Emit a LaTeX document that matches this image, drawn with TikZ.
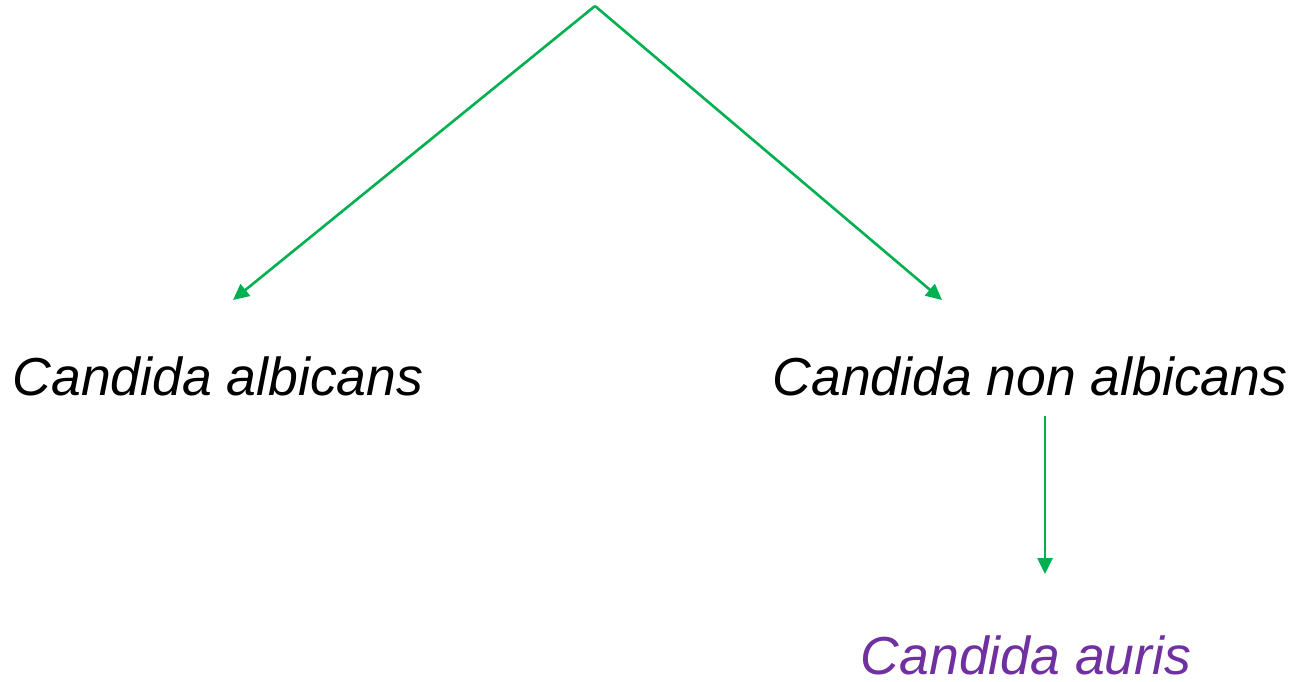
\documentclass[tikz,border=0pt]{standalone}
\usepackage{fontspec}
\setmainfont{Liberation Sans}
\usetikzlibrary{arrows.meta}
\definecolor{linkgreen}{HTML}{00B050}
\definecolor{aurispurple}{HTML}{7030A0}
\tikzset{
  link/.style={draw=linkgreen, line width=2.6pt, -{Triangle[length=16pt,width=15pt]}},
  species/.style={font=\fontsize{53.5}{64}\selectfont\itshape, inner sep=0pt, anchor=base},
}
\begin{document}
\begin{tikzpicture}[x=1pt,y=-1pt]
  \useasboundingbox (0,0) rectangle (1295,681);
  % branching point and arrow ends
  \coordinate (root) at (595,6);
  \coordinate (tipL) at (233,300);
  \coordinate (tipR) at (942,300);
  % species labels
  \node[species] (albicans) at (218,395) {Candida albicans};
  \node[species] (nonalb) at (1030,395) {Candida non albicans};
  \node[species, text=aurispurple] (auris) at (1026,674) {Candida auris};
  \coordinate (downStart) at (1045,416);
  \coordinate (downEnd) at (1045,574);
  % connectors
  \draw[link] (root) -- (tipL);
  \draw[link] (root) -- (tipR);
  \draw[link] (downStart) -- (downEnd);
\end{tikzpicture}
\end{document}
